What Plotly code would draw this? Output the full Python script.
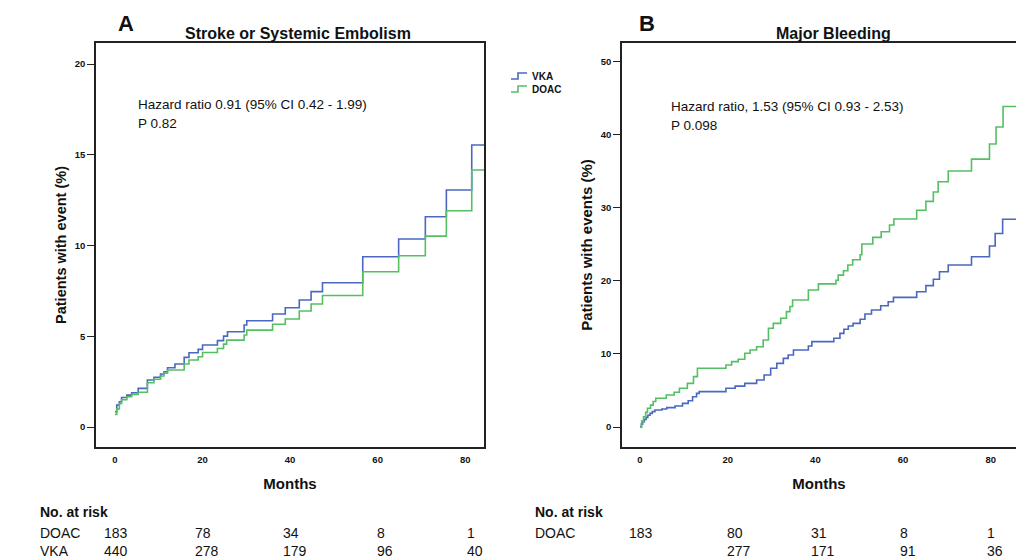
import plotly.graph_objects as go

# ---------------- data ----------------
# Panel A: Stroke or Systemic Embolism (cumulative %, step curves)
a_vka_t = [0, 0.4, 1.0, 1.5, 2.7, 3.8, 5.3, 7.4, 8.9, 10.4, 11.2, 12.0, 13.7, 15.8, 16.9, 19.0, 20.0,
           23.4, 24.8, 25.7, 29.5, 30.1, 36.0, 38.9, 42.1, 44.8, 47.4, 56.6, 64.8, 70.9, 75.7, 81.5, 84.3]
a_vka_v = [0.84, 1.21, 1.39, 1.63, 1.76, 1.89, 2.13, 2.59, 2.74, 2.92, 3.05, 3.27, 3.47, 3.84, 4.09, 4.28,
           4.52, 4.76, 5.01, 5.25, 5.62, 5.86, 6.23, 6.57, 7.0, 7.46, 7.95, 9.38, 10.36, 11.59, 13.06, 15.54, 15.54]
a_doac_t = [0, 0.4, 1.0, 1.5, 2.7, 3.8, 5.3, 7.4, 8.9, 10.4, 11.2, 12.0, 15.8, 16.9, 19.0, 20.0, 23.4,
            24.8, 25.5, 29.5, 30.1, 36.0, 38.9, 42.1, 44.8, 47.4, 56.6, 64.8, 70.9, 75.7, 81.5, 84.3]
a_doac_v = [0.70, 1.0, 1.3, 1.5, 1.67, 1.8, 1.92, 2.44, 2.63, 2.81, 2.96, 3.14, 3.47, 3.69, 3.87, 4.11,
            4.33, 4.57, 4.79, 5.07, 5.34, 5.66, 5.95, 6.39, 6.78, 7.25, 8.56, 9.44, 10.52, 11.92, 14.16, 14.16]

# Panel B: Major Bleeding
b_vka_t = [0, 0.3, 0.6, 1.0, 1.4, 1.8, 2.3, 2.8, 3.4, 5.0, 6.1, 8.0, 9.7, 11.0, 12.0, 12.9, 13.5, 19.6,
           21.7, 23.9, 26.6, 28.3, 29.8, 31.2, 32.7, 33.8, 35.0, 38.4, 39.2, 44.2, 45.6, 46.5, 47.5, 48.6,
           50.2, 51.3, 52.8, 54.9, 56.6, 57.8, 63.1, 65.2, 66.9, 68.3, 70.3, 75.6, 79.7, 81.0, 82.7, 85.8]
b_vka_v = [0, 0.4, 0.73, 1.05, 1.32, 1.6, 1.87, 2.1, 2.33, 2.47, 2.65, 2.88, 3.24, 3.6, 4.15, 4.6, 4.84, 5.3,
           5.6, 5.98, 6.44, 7.12, 8.04, 8.72, 9.4, 9.86, 10.55, 11.1, 11.7, 12.15, 12.83, 13.38, 13.84, 14.2,
           14.75, 15.48, 16.03, 16.6, 17.16, 17.76, 18.53, 19.36, 20.23, 21.27, 22.19, 23.33, 24.8, 26.5, 28.45, 28.45]
b_doac_t = [0, 0.4, 0.8, 1.3, 1.7, 2.4, 3.0, 3.6, 6.0, 7.8, 9.0, 10.8, 12.2, 13.1, 19.6, 20.9, 22.4, 23.9,
            25.1, 26.6, 28.1, 29.3, 30.4, 32.1, 33.4, 34.2, 34.8, 38.4, 40.7, 44.7, 45.2, 46.4, 47.4, 48.5,
            50.2, 50.6, 53.1, 55.0, 56.9, 57.9, 63.1, 65.2, 66.9, 68.0, 70.3, 75.6, 79.7, 81.2, 82.8, 85.8]
b_doac_v = [0, 0.8, 1.4, 2.0, 2.56, 3.0, 3.5, 3.93, 4.38, 4.75, 5.3, 5.98, 6.9, 8.04, 8.49, 8.95, 9.27, 10.1,
            10.55, 11.0, 11.92, 13.52, 14.2, 14.9, 15.8, 16.5, 17.4, 18.77, 19.6, 20.1, 20.8, 21.4, 22.2, 22.9,
            23.6, 25.07, 25.98, 26.75, 27.67, 28.5, 29.7, 30.9, 32.2, 33.6, 35.07, 36.7, 38.77, 41.1, 43.9, 43.9]

x_ticks = [0, 20, 40, 60, 80]
a_y_ticks = [0, 5, 10, 15, 20]
b_y_ticks = [0, 10, 20, 30, 40, 50]

a_risk_doac = ["183", "78", "34", "8", "1"]
a_risk_vka = ["440", "278", "179", "96", "40"]
b_risk_doac = ["183", "80", "31", "8", "1"]
b_risk_vka = ["", "277", "171", "91", "36"]

BLUE = "#4a68c0"
GREEN = "#55bf63"
W, H = 1016, 559

def px_x(p):
    return p / W

def px_y(p):
    return 1 - p / H

def bold_ticks(vals):
    return ["<b>%s</b>" % v for v in vals]

fig = go.Figure()
fig.add_trace(go.Scatter(x=a_vka_t, y=a_vka_v, mode="lines", line=dict(color=BLUE, width=1.6, shape="hv"),
                         name="VKA", xaxis="x", yaxis="y", showlegend=False))
fig.add_trace(go.Scatter(x=a_doac_t, y=a_doac_v, mode="lines", line=dict(color=GREEN, width=1.6, shape="hv"),
                         name="DOAC", xaxis="x", yaxis="y", showlegend=False))
fig.add_trace(go.Scatter(x=b_vka_t, y=b_vka_v, mode="lines", line=dict(color=BLUE, width=1.6, shape="hv"),
                         name="VKA", xaxis="x2", yaxis="y2", showlegend=False))
fig.add_trace(go.Scatter(x=b_doac_t, y=b_doac_v, mode="lines", line=dict(color=GREEN, width=1.6, shape="hv"),
                         name="DOAC", xaxis="x2", yaxis="y2", showlegend=False))

ydom = [px_y(447), px_y(43)]
tfont = dict(family="Liberation Sans", size=9.5, color="#111")

common_x = dict(showgrid=False, zeroline=False, showline=True, linecolor="#222", linewidth=1.5,
                ticks="outside", ticklen=3, tickcolor="rgba(0,0,0,0)", tickvals=x_ticks,
                ticktext=bold_ticks(x_ticks), tickfont=tfont,
                title=dict(text="<b>Months</b>", font=dict(family="Liberation Sans", size=15, color="#111"), standoff=14))
common_y = dict(showgrid=False, zeroline=False, showline=True, linecolor="#222", linewidth=1.5,
                ticks="outside", ticklen=7, tickwidth=1.2, tickcolor="#222", tickfont=tfont)

fig.update_layout(
    width=W, height=H, margin=dict(l=0, r=0, t=0, b=0),
    paper_bgcolor="white", plot_bgcolor="white", showlegend=False,
    xaxis=dict(domain=[px_x(96), px_x(484)], range=[-4.34, 84.3], anchor="y", mirror=True, **common_x),
    yaxis=dict(domain=ydom, range=[-1.1, 21.16], anchor="x", mirror=True, tickvals=a_y_ticks,
               ticktext=bold_ticks(a_y_ticks),
               title=dict(text="<b>Patients with event (%)</b>", font=dict(family="Liberation Sans", size=14.5, color="#111"),
                          standoff=5), **common_y),
    xaxis2=dict(domain=[px_x(622), 1.0], range=[-4.1, 85.75], anchor="y2", mirror=True, **common_x),
    yaxis2=dict(domain=ydom, range=[-2.74, 52.6], anchor="x2", mirror=False, tickvals=b_y_ticks,
                ticktext=bold_ticks(b_y_ticks),
                title=dict(text="<b>Patients with events (%)</b>", font=dict(family="Liberation Sans", size=15, color="#111"),
                           standoff=5), **common_y),
)

ann = []
def text(x, y, s, size=13, bold=False, xanchor="left", family="Liberation Sans"):
    ann.append(dict(x=px_x(x), y=px_y(y), xref="paper", yref="paper", text=("<b>%s</b>" % s) if bold else s,
                    showarrow=False, xanchor=xanchor, yanchor="middle",
                    font=dict(family=family, size=size, color="#111")))

# panel labels and titles
text(116, 23, "A", size=22, bold=True)
text(298, 33, "Stroke or Systemic Embolism", size=16, bold=True, xanchor="center")
text(637, 23, "B", size=22, bold=True)
text(833, 33, "Major Bleeding", size=16, bold=True, xanchor="center")

# hazard ratio annotations
text(136, 104, "Hazard ratio 0.91 (95% CI 0.42 - 1.99)", size=13.5)
text(136, 123, "P 0.82", size=13.5)
text(669, 106, "Hazard ratio, 1.53 (95% CI 0.93 - 2.53)", size=13.5)
text(669, 125, "P 0.098", size=13.5)

# legend
text(530, 76, "VKA", size=10, bold=True)
text(530, 89, "DOAC", size=10, bold=True)

# risk tables
a_cols = [102, 193, 281, 375, 465]
b_cols = [627, 725, 809, 898, 985]
text(38, 512, "No. at risk", size=14, bold=True)
text(38, 533, "DOAC", size=14)
text(38, 551, "VKA", size=14)
for cx, d, v in zip(a_cols, a_risk_doac, a_risk_vka):
    text(cx, 533, d, size=14)
    text(cx, 551, v, size=14)
text(533, 512, "No. at risk", size=14, bold=True)
text(533, 533, "DOAC", size=14)
for cx, d, v in zip(b_cols, b_risk_doac, b_risk_vka):
    text(cx, 533, d, size=14)
    if v:
        text(cx, 551, v, size=14)

fig.update_layout(annotations=ann)

# legend glyphs (step symbol) drawn as paper shapes
def glyph(y, color):
    x0, x1, x2, x3 = 511, 518, 524, 527
    path = "M %f %f L %f %f L %f %f L %f %f L %f %f L %f %f" % (
        px_x(x0), px_y(y + 3), px_x(x1), px_y(y + 3), px_x(x1), px_y(y - 3),
        px_x(x2), px_y(y - 3), px_x(x2), px_y(y - 3), px_x(x3), px_y(y - 3))
    return dict(type="path", path=path, xref="paper", yref="paper", line=dict(color=color, width=1.6))

fig.update_layout(shapes=[glyph(76, BLUE), glyph(89, GREEN)])

fig.write_html("out.html")
